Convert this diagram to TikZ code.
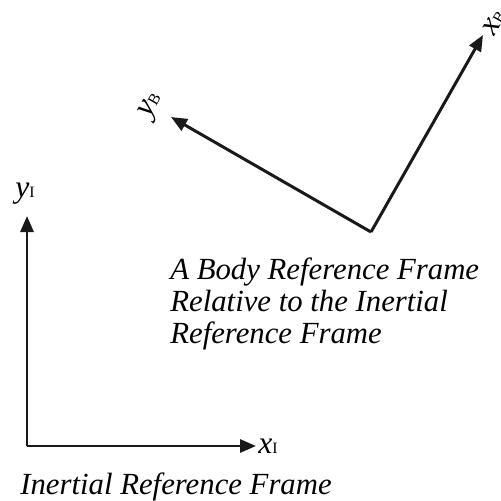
\documentclass[tikz,border=0pt]{standalone}
\usepackage{fontspec}
\setmainfont{Liberation Serif}
\usepackage{tikz}
\usetikzlibrary{arrows.meta, positioning}

\newcommand{\axisname}[2]{\textit{#1}\textup{\fontsize{9}{9}\selectfont #2}}

\begin{document}
\begin{tikzpicture}[
        x=0.02cm, y=-0.02cm,
        axis/.style = {draw=black!90, line width=1.7pt, -{Triangle[length=3.2mm, width=2.6mm]}},
        axislabel/.style = {font=\fontsize{18}{20}\selectfont, inner sep=0pt},
        caption/.style = {font=\fontsize{17.5}{18}\selectfont\itshape, align=left, inner sep=0pt}
    ]

        % Page frame
        \useasboundingbox (0,0) rectangle (501,501);
        \clip (0,0) rectangle (501,501);

        % Inertial frame
        \coordinate (io) at (27,446);
        \coordinate (ix) at (256,446);
        \coordinate (iy) at (27,216);
        \draw [axis] (io) -- (ix);
        \draw [axis] (io) -- (iy);
        \node (xI) [axislabel, anchor=base west] at (258,453) {\axisname{x}{I}};
        \node (yI) [axislabel, anchor=base west] at (15,197) {\axisname{y}{I}};
        \node (inertial) [caption, anchor=base west] at (20,494) {Inertial Reference Frame};

        % Body frame, turned by 60 degrees
        \coordinate (bo) at (371,232);
        \coordinate (bx) at (483,35);
        \coordinate (by) at (171,117);
        \draw [axis] (bo) -- (bx);
        \draw [axis] (bo) -- (by);
        \node (xB) [axislabel, rotate=60] at (494,22) {\axisname{x}{B}};
        \node (yB) [axislabel, rotate=60] at (152,106) {\axisname{y}{B}};
        % baseline of the last line
        \node (body) [caption, anchor=base west] at (170,343) {A Body Reference Frame\\Relative to the Inertial\\Reference Frame};

    \end{tikzpicture}
\end{document}
